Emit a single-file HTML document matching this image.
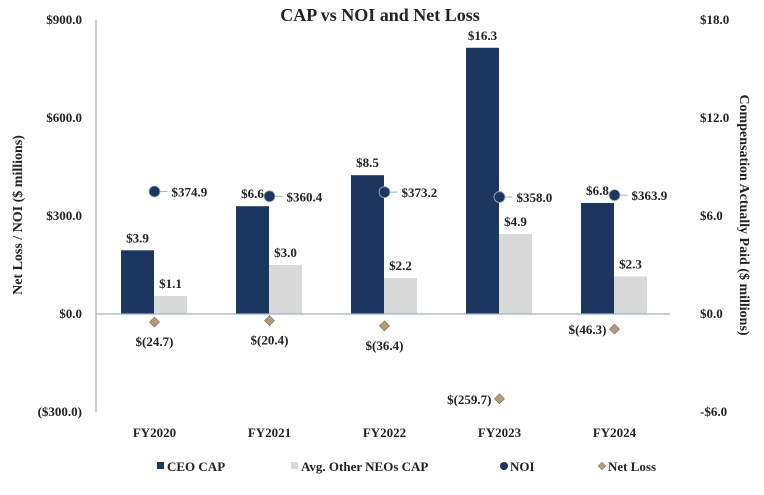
<!DOCTYPE html>
<html><head><meta charset="utf-8"><style>
body{margin:0;background:#fff}
svg text{font-family:"Liberation Serif",serif;font-weight:bold;fill:#222}
</style></head><body>
<svg id="c" width="764" height="490" xmlns="http://www.w3.org/2000/svg">
<text x="380" y="21" text-anchor="middle" font-size="18">CAP vs NOI and Net Loss</text>
<text transform="translate(22,215) rotate(-90)" text-anchor="middle" font-size="14">Net Loss / NOI ($ millions)</text>
<text transform="translate(740,215) rotate(90)" text-anchor="middle" font-size="14">Compensation Actually Paid ($ millions)</text>
<g id="g"></g>
</svg>
<script>
const categories=["FY2020","FY2021","FY2022","FY2023","FY2024"];
const ceoCap=[3.9,6.6,8.5,16.3,6.8];
const neoCap=[1.1,3.0,2.2,4.9,2.3];
const noi=[374.9,360.4,373.2,358.0,363.9];
const netLoss=[-24.7,-20.4,-36.4,-259.7,-46.3];
const leftTicks=[900,600,300,0,-300];
const leftTickLabels=["$900.0","$600.0","$300.0","$0.0","($300.0)"];
const rightTicks=[18,12,6,0,-6];
const rightTickLabels=["$18.0","$12.0","$6.0","$0.0","-$6.0"];
const g=document.getElementById('g');const NS="http://www.w3.org/2000/svg";
const yL=v=>314-v*98/300, yR=v=>314-v*98/6, xC=i=>97+115*i+57.5;
function mk(t,a,txt){const e=document.createElementNS(NS,t);for(const k in a)e.setAttribute(k,a[k]);if(txt!==undefined)e.textContent=txt;g.appendChild(e);return e;}
let e;
e=mk('line',{x1:96,y1:yL(900),x2:96,y2:yL(-300),stroke:'#9fb1c4','stroke-width':1.3});


leftTicks.forEach((v,i)=>{e=mk('text',{x:82,y:yL(v)+4,'text-anchor':'end','font-size':13},leftTickLabels[i]);

});
rightTicks.forEach((v,i)=>{e=mk('text',{x:700,y:yR(v)+4,'font-size':13},rightTickLabels[i]);

});
categories.forEach((c,i)=>{const x=xC(i);
e=mk('rect',{x:x-33.5,y:yR(ceoCap[i]),width:33,height:314-yR(ceoCap[i]),fill:'#1c3660'});


e=mk('text',{x:x-17,y:yR(ceoCap[i])-8,'text-anchor':'middle','font-size':13},'$'+ceoCap[i].toFixed(1));


e=mk('rect',{x:x-0.5,y:yR(neoCap[i]),width:33,height:314-yR(neoCap[i]),fill:'#d9d9d9'});


e=mk('text',{x:x+16,y:yR(neoCap[i])-8,'text-anchor':'middle','font-size':13},'$'+neoCap[i].toFixed(1));


e=mk('text',{x:x,y:437,'text-anchor':'middle','font-size':13},c);

});
e=mk('line',{x1:96,y1:314,x2:670,y2:314,stroke:'#9fb1c4','stroke-width':1.3});


categories.forEach((c,i)=>{const x=xC(i);
e=mk('line',{x1:x,y1:yL(noi[i]),x2:x+13,y2:yL(noi[i]),stroke:'#9fb1c4'});


e=mk('circle',{cx:x,cy:yL(noi[i]),r:5.5,fill:'#1c3660',stroke:'#9fb1c4','stroke-width':0.8});


e=mk('text',{x:x+17,y:yL(noi[i])+5,'font-size':13},'$'+noi[i].toFixed(1));


const yy=yL(netLoss[i]);
e=mk('polygon',{points:`${x},${yy-5} ${x+5},${yy} ${x},${yy+5} ${x-5},${yy}`,fill:'#b59a78',stroke:'#7a6a55','stroke-width':0.6});


const side=i>=3;
e=mk('text',side?{x:x-8,y:yy+5,'text-anchor':'end','font-size':13}:{x:x,y:yy+24,'text-anchor':'middle','font-size':13},'$('+(-netLoss[i]).toFixed(1)+')');

});
const leg=[['rect','CEO CAP',157,'#1c3660'],['rect','Avg. Other NEOs CAP',291,'#d9d9d9'],['circle','NOI',500,'#1c3660'],['dia','Net Loss',598,'#b59a78']];
leg.forEach(l=>{const x=l[2],y=466;
if(l[0]=='rect')e=mk('rect',{x:x,y:y-4,width:7,height:7,fill:l[3]});
else if(l[0]=='circle')e=mk('circle',{cx:x+4,cy:y,r:4,fill:l[3]});
else e=mk('polygon',{points:`${x+4},${y-4} ${x+8},${y} ${x+4},${y+4} ${x},${y}`,fill:l[3],stroke:'#7a6a55','stroke-width':0.5});


e=mk('text',{x:x+10,y:y+5,'font-size':13},l[1]);

});
</script>
</body></html>
